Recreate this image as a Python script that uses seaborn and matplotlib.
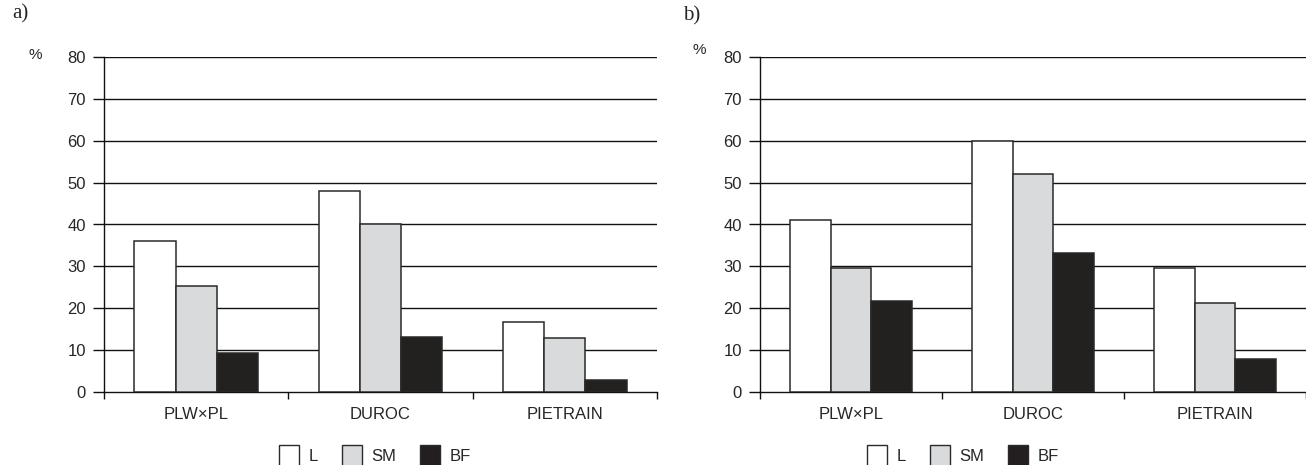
import matplotlib
matplotlib.use("Agg")
import matplotlib.pyplot as plt
import seaborn as sns
import pandas as pd
from matplotlib.patches import Patch

# ---- data ----
breeds = ["PLW×PL", "DUROC", "PIETRAIN"]
muscles = ["L", "SM", "BF"]
vals_a = {"L": [36.0, 48.0, 16.8], "SM": [25.3, 40.0, 13.0], "BF": [9.3, 13.2, 2.8]}
vals_b = {"L": [41.0, 60.0, 29.6], "SM": [29.7, 52.0, 21.2], "BF": [21.7, 33.3, 7.9]}
y_ticks = [0, 10, 20, 30, 40, 50, 60, 70, 80]

colors = {"L": "#ffffff", "SM": "#d9dadb", "BF": "#231f20"}
edge = "#2a2a2a"

sns.set_style("white")
plt.rcParams["font.family"] = ["Liberation Sans Narrow", "Liberation Sans", "DejaVu Sans"]


def to_long(vals):
    rows = []
    for m in muscles:
        for b, v in zip(breeds, vals[m]):
            rows.append({"breed": b, "muscle": m, "value": v})
    return pd.DataFrame(rows)


fig = plt.figure(figsize=(13.06, 4.65), dpi=100)
ax_a = fig.add_axes([104 / 1306, 1 - 392 / 465, (657 - 104) / 1306, (392 - 57) / 465])
ax_b = fig.add_axes([760 / 1306, 1 - 392 / 465, (1306 - 760) / 1306, (392 - 57) / 465])

for ax, vals in [(ax_a, vals_a), (ax_b, vals_b)]:
    df = to_long(vals)
    sns.barplot(data=df, x="breed", y="value", hue="muscle", order=breeds,
                hue_order=muscles, palette=colors, width=0.67,
                edgecolor=edge, linewidth=1.1, ax=ax, legend=False, zorder=3)
    for y in y_ticks[1:]:
        ax.axhline(y, color="#111111", lw=1.0, zorder=1)
    ax.set_ylim(0, 80)
    ax.set_xlim(-0.5, 2.5)
    ax.set_yticks(y_ticks)
    ax.set_yticklabels([str(t) for t in y_ticks], fontsize=12)
    ax.set_xticks([-0.5, 0.5, 1.5, 2.5])
    ax.set_xticklabels([])
    ax.set_xticks([0, 1, 2], minor=True)
    ax.set_xticklabels(breeds, minor=True, fontsize=12)
    ax.tick_params(axis="x", which="minor", length=0, pad=11)
    ax.tick_params(axis="x", which="major", length=5, width=1, color="#111111", direction="out", bottom=True)
    ax.tick_params(axis="y", length=8, width=1, color="#111111", direction="out", left=True, pad=5)
    ax.set_xlabel("")
    ax.set_ylabel("")
    for s in ["top", "right"]:
        ax.spines[s].set_visible(False)
    for s in ["left", "bottom"]:
        ax.spines[s].set_color("#111111")
        ax.spines[s].set_linewidth(1.0)

handles = [Patch(facecolor=colors[m], edgecolor=edge, linewidth=1.0, label=m) for m in muscles]
for cx in [375 / 1306, 963 / 1306]:
    fig.legend(handles=handles, loc="center", bbox_to_anchor=(cx, 1 - 456 / 465), ncol=3,
               frameon=False, fontsize=12, handlelength=1.2, handleheight=1.6,
               handletextpad=0.6, columnspacing=1.4, borderaxespad=0, borderpad=0)

fig.text(12 / 1306, 1 - 14 / 465, "a)", family="Liberation Serif", fontsize=15, va="center", ha="left")
fig.text(683 / 1306, 1 - 16 / 465, "b)", family="Liberation Serif", fontsize=15, va="center", ha="left")
fig.text(35 / 1306, 1 - 55 / 465, "%", fontsize=11, va="center", ha="center")
fig.text(699 / 1306, 1 - 50 / 465, "%", fontsize=11, va="center", ha="center")

fig.savefig("out.png", dpi=100)
